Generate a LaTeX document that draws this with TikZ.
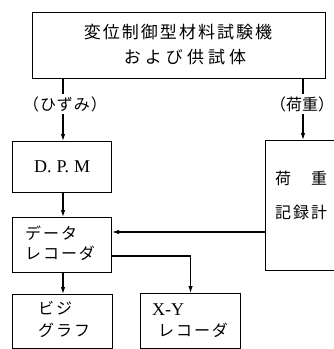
\documentclass[tikz,border=0pt]{standalone}
\usepackage{fontspec}
\setmainfont{Liberation Serif}
\newfontfamily\jp{Noto Sans CJK JP}
\usetikzlibrary{arrows.meta}
\tikzset{
  boxst/.style={draw, line width=1.1pt, inner sep=0pt, anchor=north west},
  lnst/.style={line width=1.1pt},
  arr/.style={line width=1.1pt, -{Latex[length=7pt,width=4.5pt]}},
  jptxt/.style={inner sep=0pt, font=\jp\fontsize{16}{16}\selectfont\addfontfeature{LetterSpace=12}},
  lat/.style={inner sep=0pt, font=\fontsize{18}{18}\selectfont},
}
\begin{document}
\begin{tikzpicture}[x=1pt,y=-1pt]
\useasboundingbox (0,0) rectangle (334,349);
\clip (0,0) rectangle (334,349);
% boxes
\node[boxst, minimum width=293pt, minimum height=66pt] (top) at (32,12) {};
\node[boxst, minimum width=99pt, minimum height=51pt] (dpm) at (12,141) {};
\node[boxst, minimum width=99pt, minimum height=55pt] (data) at (12,217) {};
\node[boxst, minimum width=100pt, minimum height=54pt] (bisi) at (12,294) {};
\node[boxst, minimum width=100pt, minimum height=55pt] (xy) at (140,293) {};
\node[boxst, minimum width=90pt, minimum height=130pt] (load) at (265,140) {};
% texts
\node[jptxt, font=\jp\fontsize{17}{17}\selectfont\addfontfeature{LetterSpace=12}] (t1) at (178,32) {変位制御型材料試験機};
\node[jptxt, font=\jp\fontsize{17}{17}\selectfont\addfontfeature{LetterSpace=24}] (t2) at (185,57) {および供試体};
\node[jptxt, font=\jp\fontsize{16}{16}\selectfont\addfontfeature{LetterSpace=6}, inner sep=2pt] (hiz) at (65,104) {（ひずみ）};
\node[jptxt, font=\jp\fontsize{16}{16}\selectfont, inner sep=2pt] (kaju) at (302,104) {（荷重）};
\node[lat] (dpmt) at (dpm.center) {D.\hspace{5pt}P.\hspace{5pt}M};
\node[jptxt, anchor=west] (d1) at (25,233) {データ};
\node[jptxt, anchor=west] (d2) at (25,253) {レコーダ};
\node[jptxt, anchor=west] (b1) at (38,308) {ビジ};
\node[jptxt, anchor=west] (b2) at (38,330) {グラフ};
\node[lat, anchor=west] (x1) at (152,310) {X-Y};
\node[jptxt, anchor=west] (x2) at (158,330) {レコーダ};
\node[jptxt, anchor=west] (l1) at (275,178) {荷　重};
\node[jptxt, anchor=west] (l2) at (275,212) {記録計};
% connectors
\coordinate (cl) at (63,0);
\coordinate (cr) at (303,0);
\coordinate (cin) at (0,232);
\coordinate (cout) at (0,256);
\draw[lnst] (top.south -| cl) -- (hiz.north -| cl);
\draw[arr] (hiz.south -| cl) -- (dpm.north -| cl);
\draw[lnst] (top.south -| cr) -- (kaju.north -| cr);
\draw[arr] (kaju.south -| cr) -- (load.north -| cr);
\draw[arr] (dpm.south -| cl) -- (data.north -| cl);
\draw[arr] (load.west |- cin) -- (data.east |- cin);
\draw[arr] (data.east |- cout) -| (xy.north);
\draw[arr] (data.south -| cl) -- (bisi.north -| cl);
\end{tikzpicture}
\end{document}
